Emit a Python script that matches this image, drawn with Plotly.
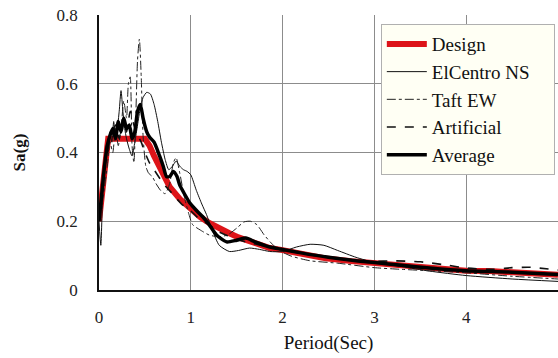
import plotly.graph_objects as go

# Design spectrum
design_T = [0, 0.05, 0.1, 0.5, 0.55, 0.6, 0.68, 0.77, 0.88, 1.0, 1.1, 1.2, 1.3, 1.42, 1.52, 1.64, 1.75, 1.86, 2.0, 2.2, 2.47, 2.75, 3.0, 3.25, 3.49, 3.75, 4.0, 4.25, 4.5, 4.75, 5.0]
design_Sa = [0.20, 0.33, 0.44, 0.44, 0.42, 0.39, 0.345, 0.30, 0.265, 0.235, 0.213, 0.195, 0.18, 0.165, 0.153, 0.141, 0.131, 0.122, 0.116, 0.105, 0.092, 0.084, 0.078, 0.072, 0.066, 0.061, 0.056, 0.055, 0.053, 0.048, 0.044]

# El Centro NS
elc_T = [0, 0.02, 0.04, 0.06, 0.08, 0.1, 0.12, 0.14, 0.16, 0.18, 0.2, 0.22, 0.24, 0.26, 0.28, 0.3, 0.33, 0.36, 0.39, 0.42, 0.45, 0.48, 0.52, 0.56, 0.6, 0.64, 0.68, 0.72, 0.76, 0.8, 0.84, 0.88, 0.92, 0.96, 1.0, 1.06, 1.12, 1.17, 1.24, 1.31, 1.42, 1.52, 1.64, 1.75, 1.86, 2.0, 2.15, 2.3, 2.45, 2.6, 2.8, 3.0, 3.3, 3.6, 4.0, 4.5, 5.0]
elc_Sa = [0.20, 0.13, 0.28, 0.36, 0.42, 0.40, 0.46, 0.43, 0.49, 0.44, 0.47, 0.52, 0.58, 0.52, 0.47, 0.44, 0.41, 0.39, 0.43, 0.48, 0.53, 0.56, 0.575, 0.57, 0.54, 0.49, 0.43, 0.38, 0.35, 0.36, 0.375, 0.36, 0.35, 0.345, 0.335, 0.29, 0.25, 0.22, 0.17, 0.13, 0.112, 0.115, 0.122, 0.118, 0.112, 0.112, 0.125, 0.133, 0.13, 0.115, 0.095, 0.08, 0.068, 0.055, 0.042, 0.032, 0.025]

# Taft EW
taft_T = [0, 0.03, 0.06, 0.09, 0.12, 0.15, 0.18, 0.21, 0.24, 0.27, 0.3, 0.32, 0.34, 0.36, 0.38, 0.4, 0.42, 0.44, 0.46, 0.48, 0.51, 0.54, 0.58, 0.62, 0.67, 0.72, 0.77, 0.81, 0.84, 0.88, 0.93, 0.98, 1.02, 1.1, 1.2, 1.3, 1.4, 1.5, 1.58, 1.65, 1.72, 1.8, 1.9, 2.0, 2.1, 2.3, 2.6, 3.0, 3.3, 3.6, 4.0, 4.5, 5.0]
taft_Sa = [0.20, 0.24, 0.30, 0.36, 0.43, 0.40, 0.47, 0.42, 0.47, 0.55, 0.50, 0.60, 0.62, 0.42, 0.37, 0.50, 0.67, 0.73, 0.62, 0.45, 0.36, 0.34, 0.33, 0.31, 0.29, 0.28, 0.31, 0.37, 0.385, 0.34, 0.27, 0.22, 0.19, 0.175, 0.16, 0.155, 0.16, 0.18, 0.198, 0.20, 0.19, 0.16, 0.13, 0.11, 0.098, 0.085, 0.078, 0.065, 0.06, 0.056, 0.05, 0.04, 0.032]

# Artificial
art_T = [0, 0.03, 0.06, 0.1, 0.14, 0.18, 0.22, 0.26, 0.3, 0.34, 0.38, 0.42, 0.46, 0.5, 0.55, 0.6, 0.7, 0.8, 0.9, 1.0, 1.1, 1.2, 1.3, 1.4, 1.5, 1.6, 1.8, 2.0, 2.2, 2.5, 2.8, 3.0, 3.2, 3.5, 3.8, 4.0, 4.3, 4.5, 4.7, 5.0]
art_Sa = [0.20, 0.27, 0.35, 0.42, 0.45, 0.48, 0.44, 0.50, 0.46, 0.52, 0.48, 0.45, 0.43, 0.40, 0.37, 0.35, 0.31, 0.28, 0.25, 0.23, 0.205, 0.19, 0.17, 0.158, 0.148, 0.14, 0.128, 0.118, 0.106, 0.095, 0.086, 0.083, 0.085, 0.082, 0.072, 0.064, 0.06, 0.065, 0.066, 0.058]

# Average
avg_T = [0, 0.03, 0.06, 0.09, 0.12, 0.15, 0.18, 0.21, 0.24, 0.27, 0.3, 0.33, 0.36, 0.39, 0.42, 0.45, 0.48, 0.52, 0.55, 0.6, 0.66, 0.7, 0.735, 0.77, 0.81, 0.85, 0.88, 0.93, 0.99, 1.06, 1.13, 1.2, 1.28, 1.39, 1.5, 1.6, 1.7, 1.86, 2.0, 2.2, 2.5, 2.8, 3.0, 3.3, 3.6, 4.0, 4.5, 5.0]
avg_Sa = [0.20, 0.28, 0.36, 0.42, 0.45, 0.47, 0.44, 0.49, 0.46, 0.50, 0.47, 0.48, 0.44, 0.46, 0.52, 0.54, 0.50, 0.46, 0.445, 0.43, 0.39, 0.36, 0.33, 0.33, 0.345, 0.33, 0.305, 0.28, 0.253, 0.232, 0.213, 0.19, 0.16, 0.14, 0.145, 0.151, 0.14, 0.125, 0.118, 0.108, 0.095, 0.085, 0.08, 0.072, 0.064, 0.056, 0.052, 0.045]

series_names = ["Design", "ElCentro NS", "Taft EW", "Artificial", "Average"]
x_ticks = [0, 1, 2, 3, 4, 5]
y_ticks = [0, 0.2, 0.4, 0.6, 0.8]
y_ticklabels = ["0", "0.2", "0.4", "0.6", "0.8"]

FONT = "Liberation Serif"
NBSP = "\u00a0"

fig = go.Figure()
fig.add_trace(go.Scatter(x=design_T, y=design_Sa, mode="lines", name=series_names[0],
                         line=dict(color="#dd1419", width=6)))
fig.add_trace(go.Scatter(x=elc_T, y=elc_Sa, mode="lines", name=series_names[1] + NBSP * 4,
                         line=dict(color="#111111", width=1, shape="spline", smoothing=0.6)))
fig.add_trace(go.Scatter(x=taft_T, y=taft_Sa, mode="lines", name=series_names[2],
                         line=dict(color="#222222", width=1, dash="dashdot", shape="spline", smoothing=0.6)))
fig.add_trace(go.Scatter(x=art_T, y=art_Sa, mode="lines", name=series_names[3],
                         line=dict(color="#111111", width=1.6, dash="dash", shape="spline", smoothing=0.6)))
fig.add_trace(go.Scatter(x=avg_T, y=avg_Sa, mode="lines", name=series_names[4],
                         line=dict(color="#000000", width=3.5, shape="spline", smoothing=0.6)))

fig.update_layout(
    width=558, height=358,
    margin=dict(l=99, r=0, t=15, b=68),
    paper_bgcolor="white", plot_bgcolor="white",
    font=dict(family=FONT, color="#111111"),
    legend=dict(x=0.614, y=0.967, xanchor="left", yanchor="top",
                bgcolor="#fffff4", bordercolor="#b0b0b0", borderwidth=1,
                font=dict(family=FONT, size=19, color="#111111"),
                itemwidth=40, tracegroupgap=0),
    showlegend=True,
)
fig.update_xaxes(range=[0, 5], tickvals=x_ticks, showgrid=True, gridcolor="#8c8c8c", gridwidth=1,
                 showline=True, linecolor="#111111", linewidth=1.5, zeroline=False,
                 ticks="", tickfont=dict(family=FONT, size=17, color="#222222"), ticklabelstandoff=11,
                 title=dict(text="Period(Sec)", font=dict(family=FONT, size=19, color="#111111"), standoff=10))
fig.update_yaxes(range=[0, 0.8], tickvals=y_ticks, ticktext=y_ticklabels, showgrid=True, gridcolor="#8c8c8c", gridwidth=1,
                 showline=True, linecolor="#111111", linewidth=1.5, zeroline=False,
                 ticks="", tickfont=dict(family=FONT, size=17, color="#222222"), ticklabelstandoff=16,
                 title=dict(text="<b>Sa(g)</b>", font=dict(family=FONT, size=17, color="#111111"), standoff=27))

fig.write_html("out.html")
